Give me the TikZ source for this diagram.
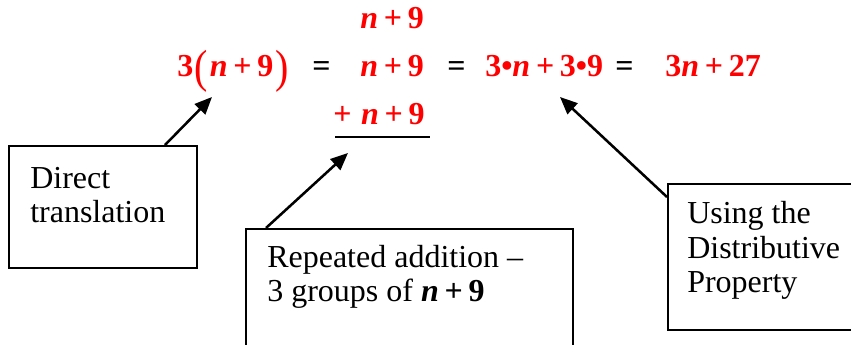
\documentclass[tikz,border=0pt]{standalone}
\usepackage{fontspec}
\setmainfont{Liberation Serif}
\usetikzlibrary{arrows.meta}
\definecolor{eqred}{RGB}{255,0,0}
\newcommand\pl{\hspace{0.18em}+\hspace{0.18em}}
\newcommand\nn{\textit{n}}
\newcommand\bparen[1]{\raisebox{-0.17em}{\mdseries\scalebox{1.25}[1.45]{#1}}}
\tikzset{
  eqtxt/.style={text=eqred, font=\fontsize{24}{28}\selectfont\bfseries, inner sep=0, anchor=base west},
  eqsign/.style={text=black, font=\fontsize{24}{28}\selectfont\bfseries, inner sep=0, anchor=base west},
  callout/.style={draw, line width=1.5pt, anchor=north west, inner sep=0},
  boxtxt/.style={font=\fontsize{24}{26}\selectfont, align=left, inner sep=0, anchor=base west},
  pointer/.style={line width=1.9pt, -{Triangle[length=13pt,width=11pt]}}
}
\begin{document}
\begin{tikzpicture}[x=0.75pt,y=-0.75pt]
\useasboundingbox (0,0) rectangle (851,345);
% equation row
\node[eqtxt] (lhs) at (177,77) {3\hspace{0.05em}\bparen{(}\hspace{0.05em}\nn\pl 9\hspace{0.08em}\bparen{)}};
\node[eqsign] (eq1) at (312,77) {=};
\node[eqtxt] (top) at (360,29) {\nn\pl 9};
\node[eqtxt] (mid) at (360,77) {\nn\pl 9};
\node[eqtxt] (bot) at (333,125) {+\hspace{0.3em}\nn\pl 9};
\coordinate (ulA) at (335,137);
\coordinate (ulB) at (430,137);
\draw[line width=1.5pt] (ulA) -- (ulB);
\node[eqsign] (eq2) at (447,77) {=};
\node[eqtxt] (dist) at (485,77) {3•\nn\pl 3•9};
\node[eqsign] (eq3) at (615,77) {=};
\node[eqtxt] (res) at (665,77) {3\nn\pl 27};
% callout boxes
\node[callout, minimum width=188*0.75pt, minimum height=122*0.75pt] (b1) at (8,145) {};
\node[boxtxt] (t1) at (30,223) {Direct\\translation};
\node[callout, minimum width=327*0.75pt, minimum height=140*0.75pt] (b2) at (245,228) {};
\node[boxtxt] (t2) at (267,302) {Repeated addition –\\3 groups of {\bfseries\nn\pl 9}};
\node[callout, minimum width=200*0.75pt, minimum height=146*0.75pt] (b3) at (667,183) {};
\node[boxtxt] (t3) at (687,293) {Using the\\Distributive\\Property};
% pointers
\coordinate (s1) at (165,145);
\coordinate (e1) at (212,97);
\coordinate (s2) at (266,228);
\coordinate (e2) at (348,153);
\coordinate (s3) at (667,197);
\coordinate (e3) at (560,97);
\draw[pointer] (s1) -- (e1);
\draw[pointer] (s2) -- (e2);
\draw[pointer] (s3) -- (e3);
\end{tikzpicture}
\end{document}
